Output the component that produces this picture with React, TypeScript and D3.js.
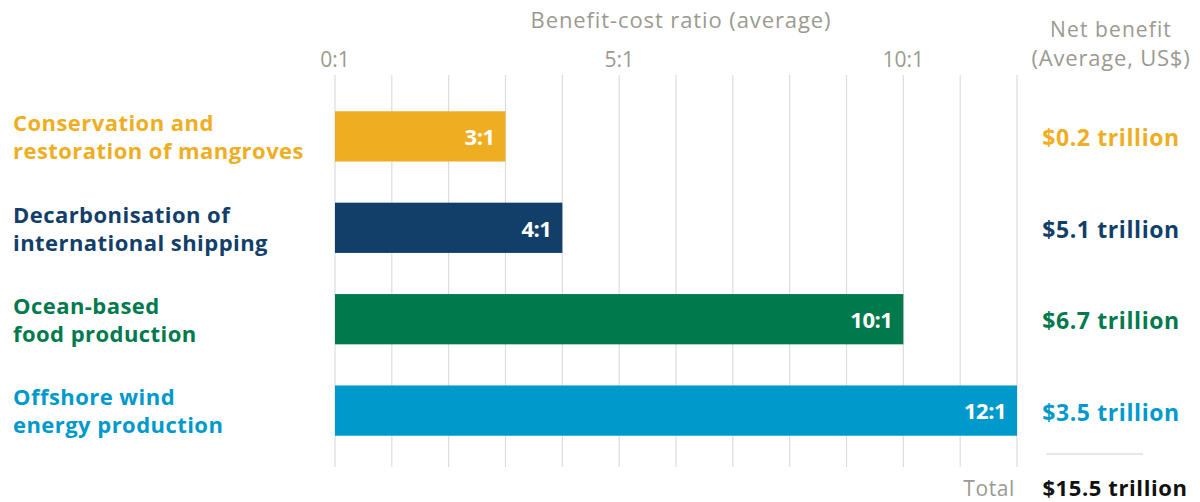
import React from "react";
import * as d3 from "d3";

const categories = [
  ["Conservation and", "restoration of mangroves"],
  ["Decarbonisation of", "international shipping"],
  ["Ocean-based", "food production"],
  ["Offshore wind", "energy production"],
];
const ratios = [3, 4, 10, 12];
const netBenefits = ["$0.2 trillion", "$5.1 trillion", "$6.7 trillion", "$3.5 trillion"];
const colors = ["#EFAE22", "#123F6A", "#007A4D", "#0099CC"];
const tickValues = [0, 5, 10];
const gridValues = d3.range(0, 13);
const totalLabel = "$15.5 trillion";

const W = 1200;
const H = 502;

export default function App() {
  const x = d3.scaleLinear().domain([0, 12]).range([335, 1017]);
  const y = d3
    .scaleBand<number>()
    .domain(d3.range(categories.length))
    .range([93, 454])
    .paddingInner(0.45)
    .paddingOuter(0.2);
  const gray = "#9a9a90";
  const labelFont = "'Open Sans', sans-serif";
  const axisFont = "'Open Sans', sans-serif";

  return (
    <svg
      width={W}
      height={H}
      style={{ position: "absolute", left: 0, top: 0, background: "#fff" }}
    >
      <text x={681} y={28} textAnchor="middle" fill={gray} fontFamily={axisFont} fontSize={22} letterSpacing={0.9}>
        Benefit-cost ratio (average)
      </text>
      {tickValues.map((t) => (
        <text key={t} x={x(t)} y={67} textAnchor="middle" fill={gray} fontFamily={axisFont} fontSize={21}>
          {t}:1
        </text>
      ))}
      {gridValues.map((g) => (
        <line key={g} x1={x(g)} x2={x(g)} y1={75} y2={467} stroke="#dcdcdc" strokeWidth={1.2} />
      ))}
      {ratios.map((r, i) => {
        const by = y(i)!;
        const bh = y.bandwidth();
        const cy = by + bh / 2;
        return (
          <g key={i}>
            <rect x={x(0)} y={by} width={x(r) - x(0)} height={bh} fill={colors[i]} />
            <text
              x={x(r) - 11}
              y={cy + 1}
              dy="0.35em"
              textAnchor="end"
              fill="#fff"
              fontFamily={labelFont}
              fontWeight={700}
              fontSize={22}
              letterSpacing={-0.5}
            >
              {r}:1
            </text>
            {categories[i].map((line, j) => (
              <text
                key={j}
                x={13}
                y={cy + 1 + (j - 0.5) * 28}
                dy="0.35em"
                fill={colors[i]}
                fontFamily={labelFont}
                fontWeight={700}
                fontSize={22}
                letterSpacing={0.45}
              >
                {line}
              </text>
            ))}
            <text
              x={1111}
              y={cy + 2}
              dy="0.35em"
              textAnchor="middle"
              fill={colors[i]}
              fontFamily={labelFont}
              fontWeight={700}
              fontSize={23}
              letterSpacing={0.6}
            >
              {netBenefits[i]}
            </text>
          </g>
        );
      })}
      <text x={1111} y={37} textAnchor="middle" fill={gray} fontFamily={labelFont} fontSize={21} letterSpacing={1.1}>
        Net benefit
      </text>
      <text x={1111} y={66} textAnchor="middle" fill={gray} fontFamily={labelFont} fontSize={22} letterSpacing={0.8}>
        (Average, US$)
      </text>
      <line x1={1046} x2={1143} y1={454} y2={454} stroke="#cfcfcf" strokeWidth={1.2} />
      <text x={1015} y={496} textAnchor="end" fill={gray} fontFamily={labelFont} fontSize={21} letterSpacing={0.6}>
        Total
      </text>
      <text x={1115} y={496} textAnchor="middle" fill="#111" fontFamily={labelFont} fontWeight={700} fontSize={22} letterSpacing={0.6}>
        {totalLabel}
      </text>
    </svg>
  );
}
